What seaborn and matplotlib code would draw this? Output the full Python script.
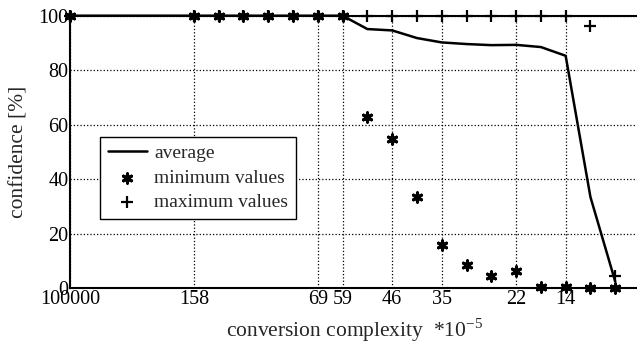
import matplotlib
matplotlib.use("Agg")
import matplotlib.pyplot as plt
import seaborn as sns
import pandas as pd

# data (x = position index along the ordinal complexity axis)
x_pos = [0, 5, 6, 7, 8, 9, 10, 11, 12, 13, 14, 15, 16, 17, 18, 19, 20, 21, 22]
average = [100, 100, 100, 100, 100, 100, 100, 100, 95.1, 94.6, 91.8, 90.2, 89.6, 89.2, 89.3, 88.5, 85.3, 33.5, 2.5]
minimum = [100, 100, 100, 100, 100, 100, 100, 100, 62.8, 54.8, 33.5, 15.8, 8.4, 4.6, 6.4, 0.5, 0.5, 0.0, 0.0]
maximum = [100, 100, 100, 100, 100, 100, 100, 100, 100, 100, 100, 100, 100, 100, 100, 100, 100, 96.3, 4.4]
tick_pos = [0, 5, 10, 11, 13, 15, 18, 20]
tick_labels = ["100000", "158", "69", "59", "46", "35", "22", "14"]

df = pd.DataFrame({"x": x_pos, "average": average, "minimum": minimum, "maximum": maximum})

sns.set_style("white")
plt.rcParams["font.family"] = ["Liberation Serif", "DejaVu Serif"]
plt.rcParams["mathtext.fontset"] = "custom"
plt.rcParams["mathtext.rm"] = "Liberation Serif"

fig = plt.figure(figsize=(6.37, 3.45), dpi=100)
ax = fig.add_axes([70 / 637, 56.7 / 345, 570 / 637, 272.6 / 345])

sns.lineplot(data=df, x="x", y="average", ax=ax, color="black", linewidth=1.8,
             label="average", clip_on=False, zorder=3)
sns.scatterplot(data=df, x="x", y="minimum", ax=ax, marker=(6, 2, 0), s=45,
                color="black", edgecolor="black", linewidth=2.2,
                label="minimum values", clip_on=False, zorder=4)
sns.scatterplot(data=df, x="x", y="maximum", ax=ax, marker="+", s=70,
                color="black", linewidth=1.6,
                label="maximum values", clip_on=False, zorder=4)

ax.set_xlim(0, 23)
ax.set_ylim(0, 100)
ax.set_xticks(tick_pos)
ax.set_xticklabels(tick_labels)
ax.set_yticks([0, 20, 40, 60, 80, 100])
ax.tick_params(direction="in", length=4, width=1, labelsize=14.5, colors="black", pad=1)
ax.grid(True, color="black", linestyle=":", linewidth=0.9)

for side in ["left", "bottom", "top"]:
    ax.spines[side].set_color("black")
    ax.spines[side].set_linewidth(1.5)
ax.spines["right"].set_visible(False)

ax.set_xlabel("conversion complexity  *10$^{\\mathrm{-5}}$", fontsize=15.5, labelpad=5.5)
ax.set_ylabel("confidence [%]", fontsize=15.5, labelpad=7)

leg = ax.legend(loc="upper left", bbox_to_anchor=(30 / 570, 151.5 / 272.6), fontsize=14,
                frameon=True, fancybox=False, framealpha=1, edgecolor="black",
                handlelength=2.0, handletextpad=0.4, borderpad=0.4, labelspacing=0.36,
                borderaxespad=0)
leg.get_frame().set_linewidth(1.0)

fig.savefig("out.png", dpi=100)
